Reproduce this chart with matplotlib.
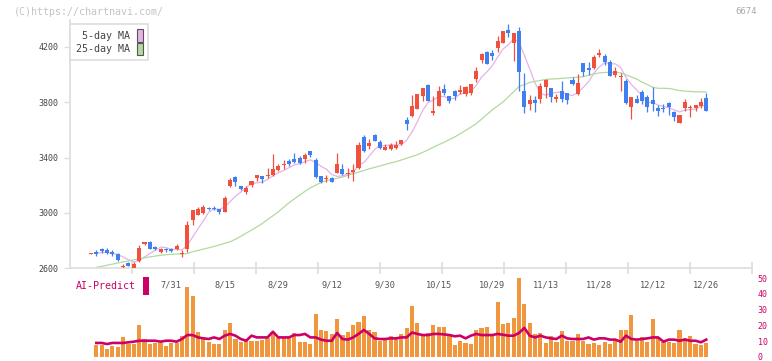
import matplotlib
matplotlib.use("Agg")
from matplotlib import pyplot as plt
from matplotlib.patches import Patch, Rectangle

# daily candles (index 0 = first visible day), prices in yen
opens = [2703, 2718, 2735, 2732, 2719, 2701, 2610, 2636, 2600, 2650,
         2775, 2790, 2750, 2718, 2733, 2740, 2735, 2703, 2738, 2945,
         2985, 3000, 3034, 3032, 3027, 3008, 3196, 3259, 3196, 3148,
         3201, 3249, 3266, 3266, 3273, 3307, 3348, 3375, 3389, 3399,
         3389, 3447, 3382, 3266, 3244, 3254, 3290, 3317, 3278, 3297,
         3322, 3548, 3486, 3563, 3514, 3454, 3460, 3469, 3498, 3672,
         3701, 3754, 3845, 3925, 3725, 3773, 3899, 3845, 3882, 3877,
         3860, 3865, 3971, 4106, 4164, 4159, 4193, 4232, 4323, 4227,
         4316, 3884, 3787, 3816, 3826, 3913, 3901, 3826, 3882, 3865,
         3961, 3858, 4082, 4046, 4046, 4142, 4135, 4094, 3997, 3981,
         3957, 3768, 3821, 3877, 3836, 3816, 3758, 3758, 3797, 3732,
         3652, 3756, 3756, 3756, 3775, 3829]
highs = [2708, 2730, 2746, 2745, 2730, 2706, 2631, 2645, 2643, 2768,
         2790, 2797, 2760, 2742, 2746, 2743, 2772, 2730, 2942, 3022,
         3040, 3055, 3045, 3052, 3030, 3120, 3250, 3266, 3197, 3196,
         3233, 3275, 3267, 3326, 3423, 3355, 3382, 3389, 3430, 3408,
         3432, 3448, 3394, 3267, 3275, 3260, 3435, 3353, 3322, 3351,
         3511, 3562, 3534, 3570, 3525, 3500, 3507, 3520, 3528, 3691,
         3853, 3862, 3905, 3932, 3845, 3918, 3932, 3846, 3889, 3922,
         3918, 3932, 4058, 4158, 4173, 4178, 4280, 4318, 4367, 4300,
         4347, 4009, 3853, 3845, 3937, 3971, 3902, 3862, 3954, 3870,
         3983, 4004, 4083, 4094, 4140, 4183, 4152, 4106, 4055, 4010,
         3965, 3838, 3850, 3889, 3850, 3909, 3780, 3787, 3802, 3740,
         3710, 3826, 3780, 3780, 3829, 3869]
lows = [2703, 2685, 2706, 2700, 2688, 2653, 2596, 2612, 2600, 2640,
        2767, 2740, 2732, 2706, 2718, 2718, 2730, 2677, 2718, 2912,
        2985, 2990, 3020, 3020, 2990, 3005, 3190, 3196, 3165, 3138,
        3190, 3230, 3215, 3253, 3268, 3300, 3315, 3339, 3358, 3350,
        3358, 3404, 3249, 3212, 3225, 3225, 3285, 3270, 3249, 3232,
        3318, 3437, 3462, 3520, 3460, 3454, 3454, 3460, 3490, 3600,
        3696, 3752, 3811, 3811, 3708, 3770, 3853, 3795, 3818, 3860,
        3845, 3853, 3949, 4082, 4077, 4106, 4166, 4228, 4270, 4102,
        3884, 3720, 3744, 3730, 3797, 3828, 3800, 3802, 3802, 3787,
        3928, 3855, 3990, 3999, 4040, 4130, 4070, 3990, 3985, 3884,
        3790, 3681, 3795, 3790, 3730, 3739, 3701, 3730, 3708, 3667,
        3650, 3739, 3696, 3739, 3756, 3739]
closes = [2706, 2698, 2720, 2712, 2698, 2658, 2614, 2617, 2629, 2745,
          2790, 2740, 2740, 2740, 2728, 2720, 2759, 2708, 2911, 3020,
          3025, 3040, 3025, 3030, 3003, 3105, 3237, 3226, 3172, 3182,
          3232, 3273, 3247, 3272, 3317, 3338, 3352, 3351, 3370, 3360,
          3418, 3418, 3259, 3225, 3254, 3225, 3353, 3278, 3290, 3312,
          3491, 3450, 3508, 3522, 3466, 3478, 3491, 3493, 3527, 3643,
          3773, 3860, 3903, 3811, 3740, 3884, 3870, 3811, 3845, 3889,
          3913, 3932, 4028, 4149, 4077, 4135, 4246, 4316, 4304, 4299,
          4022, 3763, 3816, 3797, 3918, 3961, 3836, 3838, 3826, 3816,
          3930, 3942, 4022, 4034, 4125, 4154, 4094, 3990, 4026, 3993,
          3797, 3836, 3797, 3811, 3763, 3787, 3739, 3748, 3763, 3691,
          3708, 3804, 3768, 3778, 3804, 3739]

# moving averages as drawn (start on day 1)
ma5 = [2708, 2712, 2712, 2707, 2697, 2680, 2660, 2643, 2653, 2679,
       2704, 2729, 2751, 2748, 2734, 2737, 2731, 2765, 2824, 2885,
       2941, 3004, 3028, 3025, 3041, 3080, 3120, 3149, 3184, 3210,
       3217, 3221, 3241, 3268, 3289, 3305, 3326, 3346, 3354, 3370,
       3383, 3365, 3336, 3315, 3276, 3263, 3267, 3280, 3292, 3345,
       3364, 3410, 3457, 3487, 3485, 3493, 3490, 3491, 3526, 3585,
       3659, 3741, 3798, 3817, 3840, 3842, 3823, 3830, 3860, 3866,
       3878, 3921, 3982, 4020, 4064, 4127, 4185, 4216, 4260, 4237,
       4141, 4041, 3939, 3863, 3851, 3866, 3870, 3876, 3855, 3849,
       3870, 3907, 3949, 4011, 4055, 4086, 4079, 4078, 4051, 3980,
       3928, 3890, 3847, 3801, 3799, 3779, 3770, 3760, 3746, 3730,
       3743, 3747, 3750, 3772, 3779]
ma25 = [2605, 2612, 2620, 2628, 2636, 2644, 2651, 2659, 2666, 2674,
        2680, 2686, 2692, 2696, 2699, 2701, 2701, 2705, 2718, 2727,
        2737, 2746, 2756, 2767, 2779, 2790, 2808, 2830, 2852, 2875,
        2898, 2922, 2950, 2978, 3006, 3040, 3072, 3100, 3128, 3155,
        3180, 3200, 3220, 3232, 3242, 3249, 3258, 3271, 3283, 3294,
        3306, 3318, 3328, 3339, 3350, 3360, 3370, 3382, 3395, 3407,
        3420, 3437, 3455, 3475, 3493, 3510, 3530, 3549, 3572, 3596,
        3620, 3645, 3678, 3711, 3745, 3773, 3801, 3838, 3876, 3913,
        3928, 3943, 3951, 3958, 3965, 3968, 3970, 3973, 3976, 3979,
        3982, 3985, 3995, 4005, 4012, 4016, 4016, 4016, 4014, 3998,
        3983, 3968, 3946, 3928, 3908, 3901, 3901, 3900, 3893, 3884,
        3881, 3878, 3876, 3875, 3874]

# lower panel (day 1 onward)
volume = [7.6, 7.6, 5.1, 7.0, 6.3, 12.7, 8.4, 8.4, 20.3, 11.4,
          8.4, 8.9, 8.9, 7.0, 8.9, 8.9, 13.5, 44.5, 38.8, 15.6,
          12.9, 9.7, 8.2, 8.2, 17.1, 21.5, 11.2, 9.7, 10.3, 10.3,
          10.3, 11.0, 11.8, 16.0, 11.8, 11.8, 11.8, 15.2, 9.7, 9.7,
          8.2, 27.4, 17.1, 16.7, 14.6, 24.1, 13.7, 16.0, 20.3, 22.0,
          26.0, 17.1, 16.0, 10.3, 11.8, 13.1, 11.8, 14.6, 18.4, 32.3,
          21.5, 13.9, 15.2, 20.3, 19.2, 19.2, 14.6, 7.6, 9.9, 8.9,
          8.2, 17.3, 18.4, 19.2, 14.6, 34.8, 20.9, 21.5, 24.7, 50.0,
          33.5, 21.5, 14.6, 15.2, 8.9, 13.1, 9.3, 16.7, 10.3, 10.3,
          14.6, 10.3, 8.2, 8.9, 7.6, 9.3, 8.2, 10.3, 17.1, 17.1,
          26.6, 10.3, 12.4, 9.7, 24.1, 11.8, 9.3, 9.7, 8.9, 17.1,
          12.0, 13.3, 8.2, 7.6, 8.9]
ai_predict = [8.9, 8.9, 8.2, 8.9, 8.9, 8.9, 9.3, 9.7, 10.3, 10.3,
              10.3, 10.3, 9.7, 10.3, 10.3, 9.7, 11.4, 13.9, 13.9, 12.4,
              11.8, 11.4, 12.4, 11.4, 13.5, 14.6, 13.5, 11.4, 10.3, 13.5,
              12.4, 12.4, 12.4, 16.0, 12.4, 12.4, 12.4, 13.9, 13.9, 14.6,
              12.4, 12.4, 11.0, 10.3, 10.3, 15.2, 11.4, 11.0, 12.4, 14.6,
              17.1, 14.6, 11.8, 11.4, 11.4, 11.8, 11.8, 12.4, 12.4, 15.5,
              14.6, 13.9, 13.9, 14.6, 14.6, 14.3, 13.9, 13.1, 13.5, 11.8,
              13.5, 14.6, 13.9, 13.9, 13.9, 14.6, 14.1, 13.5, 13.5, 15.2,
              18.4, 13.5, 12.4, 13.5, 12.4, 11.8, 11.4, 13.5, 11.8, 11.4,
              11.4, 11.4, 12.4, 11.0, 11.8, 11.8, 11.0, 11.0, 9.7, 13.5,
              11.4, 11.0, 11.4, 11.8, 12.4, 12.4, 9.7, 11.0, 11.0, 10.3,
              11.0, 10.3, 10.3, 9.3, 11.0]

date_labels = ["7/31", "8/15", "8/29", "9/12", "9/30", "10/15",
               "10/29", "11/13", "11/28", "12/12", "12/26"]
date_index = [15, 25, 35, 45, 55, 65, 75, 85, 95, 105, 115]
price_ticks = [2600, 3000, 3400, 3800, 4200]

UP = "#f0503c"
DOWN = "#3f7ff0"
PINK = "#e6b3e6"
GREEN = "#b3d9a0"
CRIMSON = "#cc0066"
ORANGE = "#f0963c"
GRID = "#dddddd"
MONO = "DejaVu Sans Mono"

W, H = 772, 361
fig = plt.figure(figsize=(W / 100, H / 100), dpi=100)


def fx(px):
    return px / W


def fy(py):
    return 1 - py / H


ax = fig.add_axes([fx(70), fy(268), fx(682), 248 / H])
ax2 = fig.add_axes([fx(70), fy(357), fx(682), 85 / H])
ax2.set_zorder(0)
ax.set_zorder(1)
ax.patch.set_alpha(0)

n = len(closes)
days = list(range(n))
later = days[1:]

# candles
for i in days:
    o, h, l, c = opens[i], highs[i], lows[i], closes[i]
    col = UP if c >= o else DOWN
    ax.vlines(i, l, h, color=col, lw=0.9, zorder=3)
    body = max(abs(c - o), 7)
    ax.bar(i, body, bottom=min(o, c), width=0.75, color=col, lw=0, zorder=3)

ax.plot(later, ma5, color=PINK, lw=0.9, zorder=2)
ax.plot(later, ma25, color=GREEN, lw=0.9, zorder=2)

x0 = (70 - 91) / 5.35
x1 = (752 - 91) / 5.35
ax.set_xlim(x0, x1)
ax.set_ylim(2600, 2600 + 248 * 400 / 55.25)

for s in ["top", "right"]:
    ax.spines[s].set_visible(False)
for s in ["left", "bottom"]:
    ax.spines[s].set_color(GRID)
    ax.spines[s].set_linewidth(1.2)

ax.set_yticks(price_ticks)
ax.set_yticklabels([str(p) for p in price_ticks], family=MONO, fontsize=6, color="#444444")
ax.tick_params(axis="y", length=4, width=1, color=GRID, pad=4)

ax.set_xticks(date_index)
ax.set_xticklabels(date_labels, family=MONO, fontsize=6.2, color="#555555")
ax.tick_params(axis="x", which="major", length=0, pad=9)
marks = [x0 + (132 + 62 * k - 70) / 682 * (x1 - x0) for k in range(11)]
ax.set_xticks(marks, minor=True)
ax.tick_params(axis="x", which="minor", length=8, width=1.2, color=GRID, direction="inout")

leg = ax.legend(handles=[Patch(facecolor=PINK, edgecolor="#555555", lw=0.8),
                         Patch(facecolor=GREEN, edgecolor="#555555", lw=0.8)],
                labels=["5-day MA", "25-day MA"], markerfirst=False,
                loc="upper left", bbox_to_anchor=(0, 1 - 4 / 248),
                prop={"family": MONO, "size": 7.2}, handlelength=0.6,
                handleheight=1.5, handletextpad=0.7, labelspacing=0.1,
                borderpad=0.55, borderaxespad=0, fancybox=False,
                edgecolor=GRID, framealpha=1)
leg.get_frame().set_linewidth(1.2)
for t in leg.get_texts():
    t.set_color("#444444")

# lower panel
ax2.bar(later, volume, width=0.78, color=ORANGE, lw=0)
ax2.plot(later, ai_predict, color=CRIMSON, lw=1.9, solid_joinstyle="round")
ax2.set_xlim(x0, x1)
ax2.set_ylim(0, 85 / 1.58)
for s in ax2.spines.values():
    s.set_visible(False)
ax2.set_xticks([])
ax2.yaxis.tick_right()
ax2.set_yticks([0, 10, 20, 30, 40, 50])
ax2.set_yticklabels(["0", "10", "20", "30", "40", "50"], family=MONO, fontsize=6, color=CRIMSON)
ax2.tick_params(axis="y", length=0, pad=4)

fig.text(fx(76), fy(286), "AI-Predict", family=MONO, fontsize=7.2, color=CRIMSON, va="center")
fig.patches.append(Rectangle((fx(143), fy(295)), fx(6), 18 / H, transform=fig.transFigure,
                             facecolor=CRIMSON, edgecolor="none"))

fig.text(fx(14), fy(12), "(C)https://chartnavi.com/", family=MONO, fontsize=7.2,
         color="#c4c4c4", va="center")
fig.text(fx(757), fy(12), "6674", family=MONO, fontsize=6.5, color="#aaaaaa",
         va="center", ha="right")

fig.savefig("out.png", dpi=100)
